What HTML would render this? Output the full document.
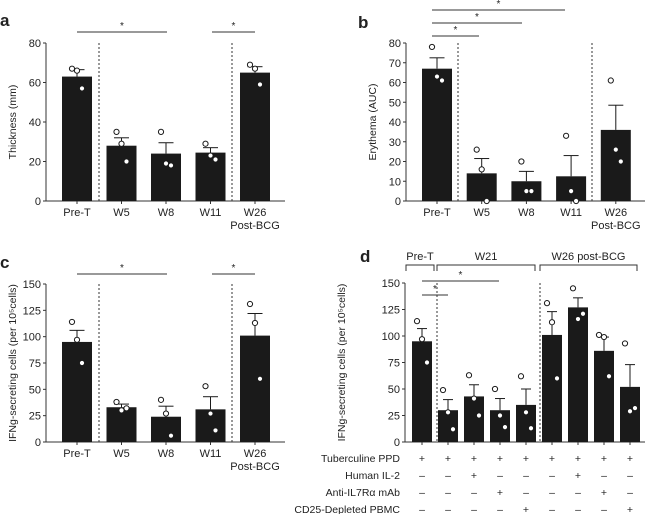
<!DOCTYPE html>
<html><head><meta charset="utf-8"><style>
body{margin:0;background:#fff;font-family:"Liberation Sans",sans-serif}
svg{display:block}
text{font-family:"Liberation Sans",sans-serif;fill:#222}
</style></head><body>
<svg id="s" width="646" height="514"></svg>
<script>
const catsA=["Pre-T","W5","W8","W11","W26"];
const valsA=[63,28,24,24.5,65];
const errA=[3.5,4,5.5,2.5,3];
const ptsA=[[67,66,57],[35,29,20],[35,19,18],[29,23,21],[69,67,59]];
const ticksA=[0,20,40,60,80];
const valsB=[67,14,10,12.5,36];
const errB=[5.5,7.5,5,10.5,12.5];
const ptsB=[[78,63,61],[26,16,0],[20,5,5],[33,5,0],[61,26,20]];
const ticksB=[0,10,20,30,40,50,60,70,80];
const valsC=[95,33,24,31,101];
const errC=[11,3,10,12,21];
const ptsC=[[114,97,75],[38,30,32],[40,27,6],[53,27,11],[131,113,60]];
const ticks150=[0,25,50,75,100,125,150];
const valsD=[95,30,43,30,35,101,127,86,52];
const errD=[12,10,11,11,15,22,9,13,21];
const ptsD=[[114,97,75],[49,28,12],[63,41,25],[50,25,14],[62,28,13],[131,113,60],[145,116,121],[101,99,62],[93,29,32]];
const rowLabels=["Tuberculine PPD","Human IL-2","Anti-IL7R\u03b1 mAb","CD25-Depleted PBMC"];
const rowPPD=["+","+","+","+","+","+","+","+","+"];
const rowIL2=["\u2013","\u2013","+","\u2013","\u2013","\u2013","+","\u2013","\u2013"];
const rowIL7=["\u2013","\u2013","\u2013","+","\u2013","\u2013","\u2013","+","\u2013"];
const rowCD25=["\u2013","\u2013","\u2013","\u2013","+","\u2013","\u2013","\u2013","+"];

const S=document.getElementById('s');
const NS='http://www.w3.org/2000/svg';
function el(tag,a,parent){const e=document.createElementNS(NS,tag);for(const k in a)e.setAttribute(k,a[k]);(parent||S).appendChild(e);return e;}
function txt(x,y,s,a,parent){const t=el('text',Object.assign({x:x,y:y,'font-size':11},a||{}),parent);t.textContent=s;return t;}

function panel(name,cfg){
  const g=el('g',{});
  
  
  const ys=v=>cfg.y0-(v/cfg.ymax)*(cfg.y0-cfg.ytop);
  const xs=i=>cfg.x0+i*cfg.step;
  const ax=el('line',{x1:cfg.ax,y1:cfg.ytop,x2:cfg.ax,y2:cfg.y0,stroke:'#333'},g);
  
  
  const xa=el('line',{x1:cfg.ax,y1:cfg.y0,x2:cfg.xend,y2:cfg.y0,stroke:'#333'},g);
  
  
  cfg.ticks.forEach(t=>{
    el('line',{x1:cfg.ax-3,x2:cfg.ax,y1:ys(t),y2:ys(t),stroke:'#333'},g);
    const tl=txt(cfg.ax-5,ys(t)+4,String(t),{'text-anchor':'end'},g);
    
    
  });
  cfg.vals.forEach((v,i)=>{
    const x=xs(i);
    const b=el('rect',{x:x-cfg.bw/2,y:ys(v),width:cfg.bw,height:cfg.y0-ys(v),fill:'#1a1a1a'},g);
    
    
    const ye=ys(v+cfg.err[i]);
    el('line',{x1:x,x2:x,y1:ys(v),y2:ye,stroke:'#1a1a1a'},g);
    el('line',{x1:x-cfg.bw/4,x2:x+cfg.bw/4,y1:ye,y2:ye,stroke:'#1a1a1a'},g);
    el('line',{x1:x,x2:x,y1:cfg.y0,y2:cfg.y0+3,stroke:'#333'},g);
    cfg.pts[i].forEach((p,j)=>{
      const c=el('circle',{cx:x+(j-1)*5,cy:ys(p),r:2.6,fill:'#fff',stroke:'#1a1a1a','stroke-width':1},g);
      
      
    });
  });
  (cfg.dash||[]).forEach(d=>el('line',{x1:d,x2:d,y1:cfg.ytop,y2:cfg.y0,stroke:'#333','stroke-dasharray':'2,2'},g));
  (cfg.sig||[]).forEach(s=>{
    el('line',{x1:s[0],x2:s[1],y1:s[2],y2:s[2],stroke:'#333'},g);
    txt((s[0]+s[1])/2,s[2]-3,'*',{'text-anchor':'middle','font-size':10},g);
  });
  const yt=txt(0,0,cfg.ytitle,{'text-anchor':'middle','font-size':10.5,transform:`translate(${cfg.tx},${(cfg.y0+cfg.ytop)/2}) rotate(-90)`},g);
  
  
  const lt=txt(cfg.lx,cfg.ly,cfg.letter,{'font-size':17,'font-weight':'bold'},g);
  
  
  return {g,xs,ys};
}
function catLabels(p,g,y){
  catsA.forEach((c,i)=>{const t=txt(p.xs(i),y,c,{'text-anchor':'middle'},g);});
  const t2=txt(p.xs(4),y+13,'Post-BCG',{'text-anchor':'middle'},g);
  
  
}
const pa=panel('panel-a-chart',{ax:46,tx:16,x0:77,step:44.5,bw:30,y0:201,ytop:43,ymax:80,xend:285,vals:valsA,err:errA,pts:ptsA,ticks:ticksA,dash:[99,232],sig:[[77,167,32],[212,255,32]],ytitle:'Thickness (mm)',letter:'a',lx:0,ly:26});
catLabels(pa,pa.g,216);
const pb=panel('panel-b-chart',{ax:406,tx:376,x0:437,step:44.7,bw:30,y0:201,ytop:43,ymax:80,xend:645,vals:valsB,err:errB,pts:ptsB,ticks:ticksB,dash:[458,592],sig:[[432,479,36],[432,522,23],[432,565,10]],ytitle:'Erythema (AUC)',letter:'b',lx:358,ly:28});
catLabels(pb,pb.g,216);
const pc=panel('panel-c-chart',{ax:46,tx:16,x0:77,step:44.5,bw:30,y0:442,ytop:284,ymax:150,xend:285,vals:valsC,err:errC,pts:ptsC,ticks:ticks150,dash:[99,232],sig:[[77,167,274],[212,255,274]],ytitle:'IFNg-secreting cells (per 10\u2075cells)',letter:'c',lx:0,ly:268});
catLabels(pc,pc.g,457);
const pd=panel('panel-d-chart',{ax:405,tx:345,x0:422,step:26,bw:20,y0:442,ytop:283,ymax:150,xend:645,vals:valsD,err:errD,pts:ptsD,ticks:ticks150,dash:[437,540],sig:[[422,499,281],[422,448,295]],ytitle:'IFNg-secreting cells (per 10\u2075cells)',letter:'d',lx:360,ly:262});
[[406,434,'Pre-T'],[437,535,'W21'],[540,637,'W26 post-BCG']].forEach(b=>{
  const p=el('path',{d:`M${b[0]} 271V265H${b[1]}V271`,fill:'none',stroke:'#333'},pd.g);
  
  
  const t=txt((b[0]+b[1])/2,260,b[2],{'text-anchor':'middle'},pd.g);
  
  
});
[rowPPD,rowIL2,rowIL7,rowCD25].forEach((row,r)=>{
  const y=462+r*17;
  const t=txt(400,y,rowLabels[r],{'text-anchor':'end','font-size':10.5},pd.g);
  
  
  row.forEach((s,i)=>{const m=txt(pd.xs(i),y,s,{'text-anchor':'middle','font-size':10.5},pd.g);});
});
</script>
</body></html>
